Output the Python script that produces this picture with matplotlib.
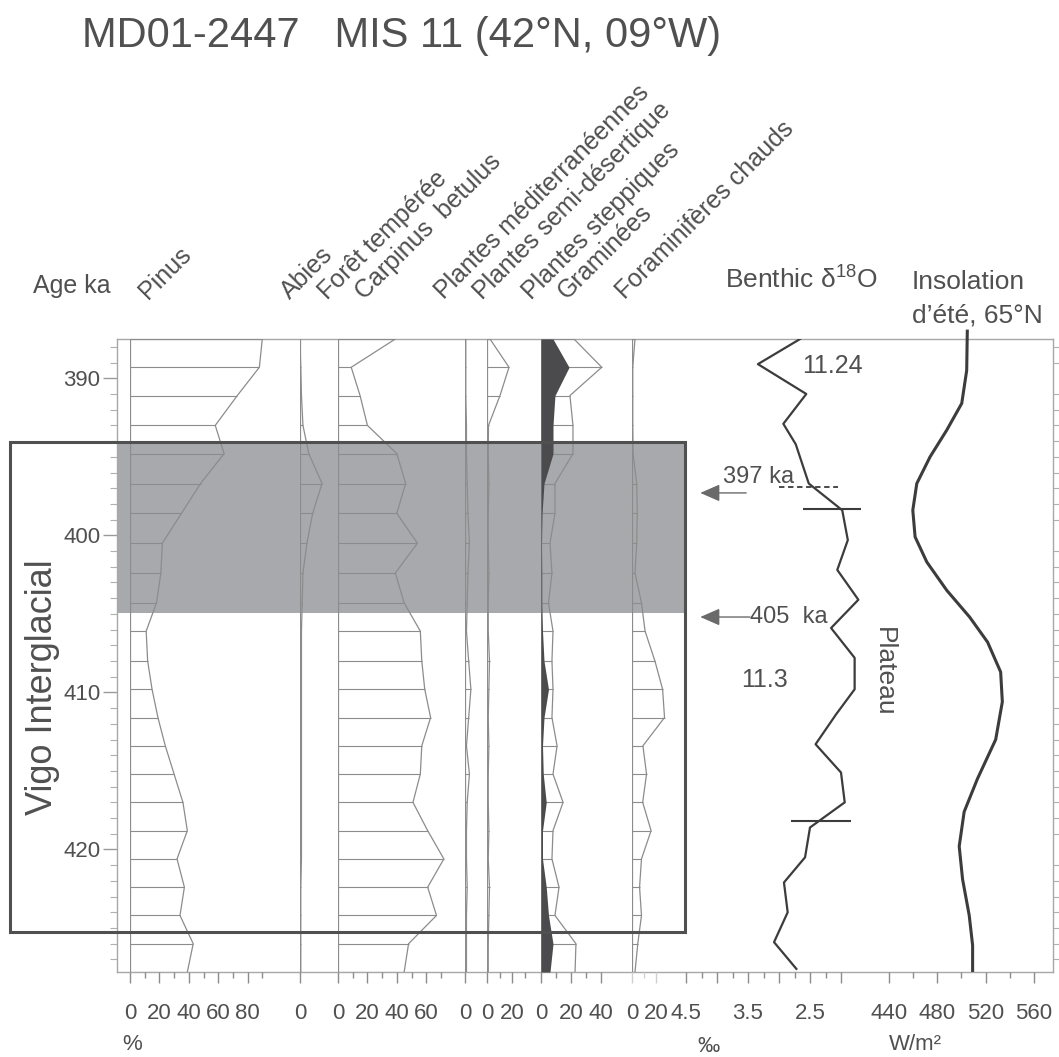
import numpy as np
import matplotlib
matplotlib.use("Agg")
import matplotlib.pyplot as plt
from matplotlib.patches import Rectangle
from matplotlib.transforms import blended_transform_factory

plt.rcParams['font.family'] = ['Liberation Sans', 'DejaVu Sans']
plt.rcParams['mathtext.fontset'] = 'custom'
plt.rcParams['mathtext.rm'] = 'Liberation Sans'
plt.rcParams['mathtext.it'] = 'Liberation Sans:italic'

TXT = '#505050'
LINE = '#8c8c8c'
DARK = '#3c3c3c'
BAND = '#a7a9ac'

### DATA ###
ages = [387.5, 389.3, 391.1, 393.0, 394.8, 396.7, 398.6, 400.5, 402.4, 404.3, 406.1, 408.0,
        409.8, 411.6, 413.4, 415.2, 417.0, 418.8, 420.6, 422.4, 424.2, 426.0, 427.8]
pinus = [90, 88, 73, 58, 64, 48, 35, 22, 21, 18, 11, 12, 15, 19, 24, 30, 36, 39, 32, 37, 34, 43, 39]
abies = [0, 0.5, 1, 2, 6, 15, 8.6, 4.7, 2, 1.5, 1, 1, 1, 1, 1, 1, 1, 1, 1, 0.5, 0.5, 0.5, 0.5]
foret = [39, 9, 15, 20, 40, 46, 40, 54, 39, 45, 56, 57, 59, 63, 57, 56, 51, 61, 72, 61, 67, 48, 45]
mediterr = [0.5, 0.5, 0.5, 1, 1, 1.5, 2, 3, 2, 1.5, 1, 2.5, 4, 2.5, 1, 3, 1.5, 1, 1, 1.5, 1, 1, 1]
semidesert = [2.4, 17.6, 10.4, 1.2, 1, 1.5, 1, 1, 1.5, 1, 1, 2, 1.5, 1, 1.5, 1, 1, 1.5, 1, 2, 1.5, 1, 1]
steppiques = [8, 18.7, 9.3, 8, 8, 2, 0.7, 0.3, 0.5, 0.5, 1, 2, 5, 2, 1, 1.5, 3.5, 1, 1, 3.5, 5, 8, 6]
graminees = [22, 40.5, 19.3, 21.3, 21.3, 9.3, 9.3, 6, 7.3, 5, 8, 7.3, 8, 7.3, 10.7, 8, 14.7, 8, 7.3,
             12, 9.3, 23.3, 22.7]
foram = [2.5, 0.6, 0.6, 0.6, 0.9, 3.9, 4.4, 3.9, 2.5, 7.9, 10.9, 19.1, 25.5, 27.1, 9.1, 12.1, 8.9,
         15.9, 7.9, 6.3, 7.9, 4.8, 2.5]

benthic_age = [387.5, 389.1, 391.0, 392.9, 394.2, 396.7, 398.4, 400.3, 402.2, 404.1, 405.9, 407.8,
               409.8, 411.4, 413.3, 415.1, 417.0, 418.6, 420.5, 422.1, 424.0, 425.9, 427.6]
benthic_d18o = [2.66, 3.34, 2.56, 2.93, 2.73, 2.52, 1.98, 1.89, 2.06, 1.72, 2.16, 1.78, 1.78, 2.08,
                2.41, 2.00, 1.94, 2.50, 2.58, 2.92, 2.86, 3.08, 2.72]

insol_age = [387.0, 389.5, 391.6, 393.3, 395.0, 396.7, 398.4, 400.1, 401.7, 403.5, 405.2, 406.8,
             408.7, 410.6, 413.0, 415.5, 417.6, 419.8, 421.9, 424.2, 426.1, 427.7]
insol = [504.8, 504.3, 500.2, 487.8, 474.0, 463.0, 459.7, 461.6, 471.3, 487.8, 506.7, 521.6,
         532.4, 533.8, 528.3, 513.2, 502.2, 498.1, 500.9, 506.4, 509.2, 509.2]

taxa = ['Pinus', 'Abies', 'Forêt tempérée', 'Carpinus  betulus', 'Plantes méditerranéennes',
        'Plantes semi-désertique', 'Plantes steppiques', 'Graminées', 'Foraminifères chauds']

vigo_top, vigo_bottom = 394.08, 425.27
band_bottom = 404.97

### LAYOUT (pixels of a 1059x1057 picture) ###
W, H = 1059, 1057
FR_L, FR_R, FR_T, FR_B = 117, 1053, 339, 972
Y_TOP, Y_BOT = 387.5, 427.8

fig = plt.figure(figsize=(W / 100, H / 100), dpi=100)


def px_box(x0, x1):
    return [x0 / W, 1 - FR_B / H, (x1 - x0) / W, (FR_B - FR_T) / H]


frame = fig.add_axes(px_box(FR_L, FR_R))
frame.set_ylim(Y_BOT, Y_TOP)
frame.set_xlim(0, 1)
frame.set_xticks([])
frame.set_yticks([390, 400, 410, 420])
frame.set_yticks(np.arange(388, 428, 1), minor=True)
frame.tick_params(axis='y', which='major', length=10, width=1, color='#9a9a9a',
                  labelsize=16, labelcolor=TXT, pad=2)
frame.tick_params(axis='y', which='minor', length=5, width=0.8, color='#b0b0b0', right=True)
for s in frame.spines.values():
    s.set_color('#a8a8a8')
    s.set_linewidth(1)
frame.axhspan(vigo_top, band_bottom, xmin=0, xmax=(685 - FR_L) / (FR_R - FR_L),
              color=BAND, lw=0, zorder=0)


def panel(x0, ppu, width, major, minor=(), labels=None, tick_color=LINE):
    ax = fig.add_axes(px_box(x0, x0 + width), facecolor='none')
    ax.set_xlim(0, width / ppu)
    ax.set_ylim(Y_BOT, Y_TOP)
    for s in ax.spines.values():
        s.set_visible(False)
    ax.set_yticks([])
    ax.set_xticks(major)
    if labels is not None:
        ax.set_xticklabels(labels)
    ax.set_xticks(list(minor), minor=True)
    ax.tick_params(axis='x', which='major', length=8, width=1, color=tick_color,
                   labelsize=16, labelcolor=TXT, pad=14)
    ax.tick_params(axis='x', which='minor', length=4, width=1, color=tick_color)
    return ax


def pollen(ax, vals):
    ax.axvline(0, color=LINE, lw=0.9)
    ax.hlines(ages, 0, vals, color=LINE, lw=0.8)
    ax.plot(vals, ages, color=LINE, lw=0.9)


ax_pin = panel(130, 1.47, 147, [0, 20, 40, 60, 80], [10, 30, 50, 70, 90])
pollen(ax_pin, pinus)

ax_abi = panel(300, 1.47, 30, [0])
pollen(ax_abi, abies)

ax_for = panel(338, 1.47, 117, [0, 20, 40, 60], [10, 30, 50, 70])
pollen(ax_for, foret)

ax_med = panel(465, 1.47, 20, [0])
pollen(ax_med, mediterr)

ax_sem = panel(487, 1.25, 40, [0, 20], [10, 30])
pollen(ax_sem, semidesert)

ax_ste = panel(541, 1.5, 64, [0, 20, 40], [10, 30])
pollen(ax_ste, graminees)
ax_ste.fill_betweenx(ages, 0, steppiques, color='#4b4b4d', lw=0, zorder=3)

ax_fo = panel(632, 1.2, 40, [0, 20], [10], tick_color='#d0d0d0')
pollen(ax_fo, foram)

# benthic d18O, reversed axis
B0, BPPU, BW = 686, 62, 194
ax_b = panel(B0, BPPU, BW, [4.5, 4.0, 3.5, 3.0, 2.5, 2.0],
             np.arange(4.25, 2.0, -0.5), labels=['4.5', '', '3.5', '', '2.5', ''])
ax_b.set_xlim(4.5, 4.5 - BW / BPPU)
ax_b.plot(benthic_d18o, benthic_age, color=DARK, lw=1.6)
ax_b.hlines([398.3, 418.2], [2.61, 2.81], [1.67, 1.84], color=DARK, lw=1.5)
ax_b.hlines(396.9, 3.0, 2.05, color=DARK, lw=1.3, linestyles=(0, (3, 2)))
for a_y, a_from in [(397.3, 3.53), (405.2, 3.47)]:
    ax_b.annotate('', xy=(4.27, a_y), xytext=(a_from, a_y),
                  arrowprops=dict(arrowstyle='-|>,head_length=0.8,head_width=0.35',
                                  color='#6a6a6a', lw=1, mutation_scale=15,
                                  shrinkA=0, shrinkB=0))
ax_b.text(3.33, 396.3, '397 ka', fontsize=17, color=TXT, ha='center', va='center')
ax_b.text(2.84, 405.2, '405  ka', fontsize=17, color=TXT, ha='center', va='center')
ax_b.text(2.14, 389.2, '11.24', fontsize=18, color=TXT, ha='center', va='center')
ax_b.text(3.23, 409.2, '11.3', fontsize=18, color=TXT, ha='center', va='center')
ax_b.text(1.31, 408.7, 'Plateau', fontsize=19, color=TXT, ha='center', va='center',
          rotation=-90)

# summer insolation 65N
ax_i = panel(870, 1.2083, 183, [440, 480, 520, 560], [460, 500, 540])
ax_i.set_xlim(440 - 19 / 1.2083, 440 + 164 / 1.2083)
ax_i.plot(insol, insol_age, color=DARK, lw=2.2, clip_on=False, solid_joinstyle='round')

# Vigo interglacial box, over everything
box_tr = blended_transform_factory(fig.transFigure, frame.transData)
fig.add_artist(Rectangle((10 / W, vigo_top), (685 - 10) / W, vigo_bottom - vigo_top,
                         transform=box_tr, fill=False, ec='#505050', lw=2.2, zorder=10))
fig.text(43 / W, (vigo_top + vigo_bottom) / 2, 'Vigo Interglacial', transform=box_tr,
         rotation=90, fontsize=26, color=TXT, ha='center', va='center')

# column headers
label_x = [148, 290, 327, 364, 444, 482, 531, 567, 625]
for name, lx in zip(taxa, label_x):
    fig.text(lx / W, 1 - 300 / H, name, rotation=45, rotation_mode='anchor',
             ha='left', va='baseline', fontsize=18, color=TXT)

fig.text(82 / W, 1 - 47 / H, 'MD01-2447   MIS 11 (42°N, 09°W)', fontsize=30, color=TXT,
         ha='left', va='baseline')
fig.text(33 / W, 1 - 293 / H, 'Age ka', fontsize=18, color=TXT, ha='left', va='baseline')
fig.text(725 / W, 1 - 289 / H, r'Benthic δ$^{18}$O', fontsize=19, color=TXT,
         ha='left', va='baseline')
fig.text(912 / W, 1 - 289 / H, 'Insolation', fontsize=19, color=TXT, ha='left', va='baseline')
fig.text(912 / W, 1 - 322 / H, 'd’été, 65°N', fontsize=19, color=TXT, ha='left', va='baseline')

# units
fig.text(132 / W, 1 - 1045 / H, '%', fontsize=16, color=TXT, ha='center', va='center')
fig.text(709 / W, 1 - 1047 / H, '‰', fontsize=16, color=TXT, ha='center', va='center')
fig.text(915 / W, 1 - 1045 / H, 'W/m²', fontsize=16, color=TXT, ha='center', va='center')

fig.savefig('out.png', dpi=100, facecolor='white')
